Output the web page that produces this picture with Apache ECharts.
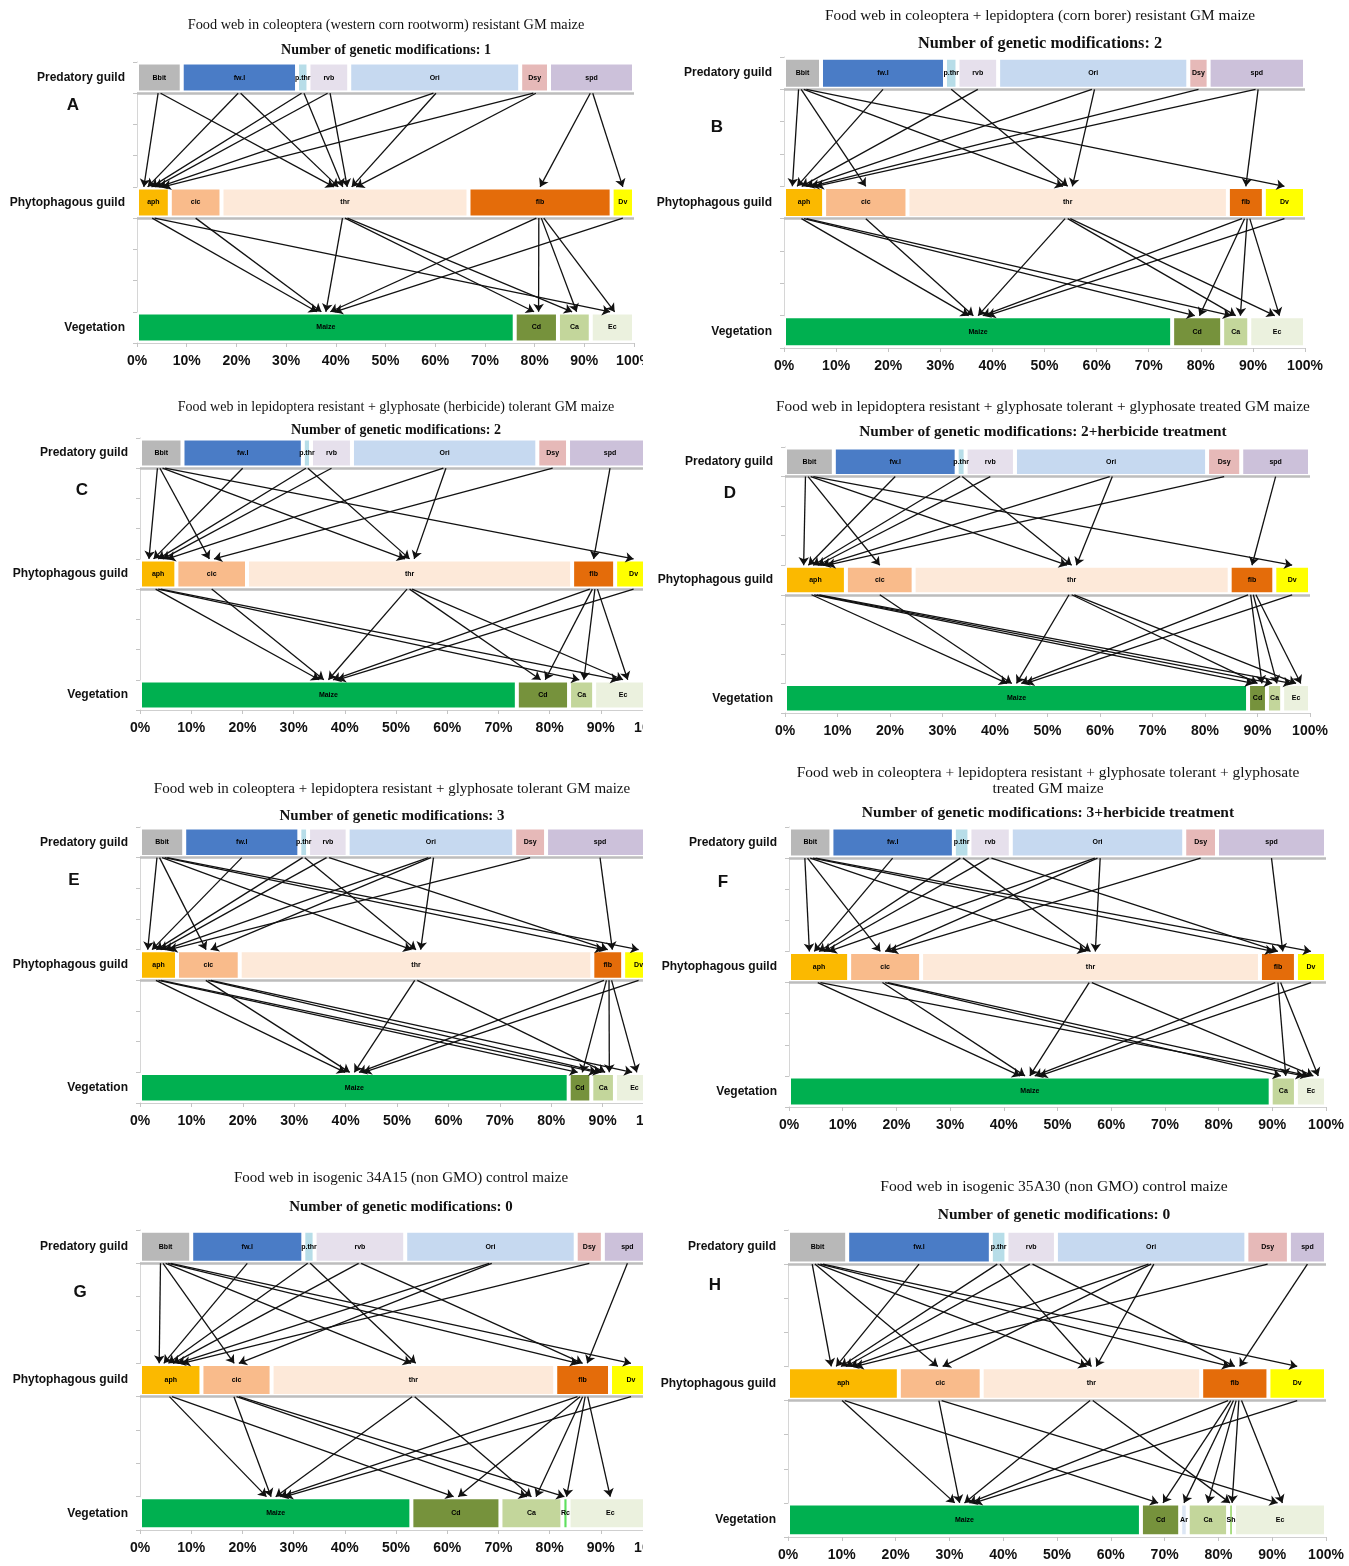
<!DOCTYPE html>
<html>
<head>
<meta charset="utf-8">
<script src="https://cdn.jsdelivr.net/npm/echarts@6/dist/echarts.min.js"></script>
<style>
    body { margin: 0; background: #fff; width: 1349px; height: 1566px; position: relative; overflow: hidden; }
    .panel { position: absolute; overflow: hidden; }
</style>
</head>
<body>
<div id="pA" class="panel"></div>
<div id="pB" class="panel"></div>
<div id="pC" class="panel"></div>
<div id="pD" class="panel"></div>
<div id="pE" class="panel"></div>
<div id="pF" class="panel"></div>
<div id="pG" class="panel"></div>
<div id="pH" class="panel"></div>
<script>
// rows, top to bottom
const rowNames = ['Predatory guild', 'Phytophagous guild', 'Vegetation'];
const predators = ['Bbit', 'fw.l', 'p.thr', 'rvb', 'Ori', 'Dsy', 'spd'];
const herbivores = ['aph', 'cic', 'thr', 'flb', 'Dv'];

// A
const predValA = [9, 23.2, 2.3, 8.2, 34.4, 5.8, 17.1];
const phytoValA = [6.6, 10.4, 49.7, 28.8, 4.5];
const vegA = ['Maize', 'Cd', 'Ca', 'Ec'];
const vegValA = [76, 8.7, 6.6, 8.7];
const eatsA = [['Bbit','aph'],['Bbit','thr'],['fw.l','aph'],['fw.l','thr'],['p.thr','aph'],['p.thr','thr'],
    ['rvb','aph'],['rvb','thr'],['Ori','aph'],['Ori','thr'],['Dsy','aph'],['Dsy','thr'],['spd','flb'],['spd','Dv']];
const feedsA = [['aph','Maize'],['aph','Ec'],['cic','Maize'],['thr','Maize'],['thr','Cd'],['thr','Ca'],
    ['flb','Maize'],['flb','Cd'],['flb','Ca'],['flb','Ec'],['Dv','Maize']];

// B
const predValB = [7.1, 23.8, 2.4, 7.8, 36.5, 3.9, 18.5];
const phytoValB = [7.7, 16, 61.5, 6.9, 7.9];
const vegB = ['Maize', 'Cd', 'Ca', 'Ec'];
const vegValB = [74.5, 9.6, 5.2, 10.7];
const eatsB = [['Bbit','aph'],['Bbit','cic'],['Bbit','thr'],['Bbit','Dv'],['fw.l','aph'],['p.thr','thr'],
    ['rvb','aph'],['Ori','aph'],['Ori','thr'],['Dsy','aph'],['spd','aph'],['spd','flb']];
const feedsB = [['aph','Maize'],['aph','Cd'],['aph','Ca'],['cic','Maize'],['thr','Maize'],['thr','Ca'],['thr','Ec'],
    ['flb','Maize'],['flb','Cd'],['flb','Ca'],['flb','Ec'],['Dv','Maize']];

// C
const predValC = [8.3, 23.5, 1.6, 8, 36.2, 6, 16.4];
const phytoValC = [7.1, 13.8, 63.5, 8.4, 7.2];
const vegC = ['Maize', 'Cd', 'Ca', 'Ec'];
const vegValC = [73.6, 10.2, 4.9, 11.3];
const eatsC = [['Bbit','aph'],['Bbit','cic'],['Bbit','thr'],['Bbit','Dv'],['fw.l','aph'],['p.thr','aph'],['p.thr','thr'],
    ['rvb','aph'],['Ori','aph'],['Ori','thr'],['Dsy','cic'],['spd','flb']];
const feedsC = [['aph','Maize'],['aph','Ca'],['aph','Ec'],['cic','Maize'],['thr','Maize'],['thr','Cd'],['thr','Ec'],
    ['flb','Maize'],['flb','Cd'],['flb','Ca'],['flb','Ec'],['Dv','Maize']];

// D
const predValD = [9.3, 23.4, 1.7, 9.4, 36.6, 6.5, 13.1];
const phytoValD = [11.6, 12.9, 60.2, 8.5, 6.8];
const vegD = ['Maize', 'Cd', 'Ca', 'Ec'];
const vegValD = [88.2, 3.6, 2.9, 5.3];
const eatsD = [['Bbit','aph'],['Bbit','cic'],['Bbit','thr'],['Bbit','Dv'],['fw.l','aph'],['p.thr','aph'],['p.thr','thr'],
    ['rvb','aph'],['Ori','aph'],['Ori','thr'],['Dsy','aph'],['spd','flb']];
const feedsD = [['aph','Maize'],['aph','Cd'],['aph','Ca'],['aph','Ec'],['cic','Maize'],['thr','Maize'],['thr','Cd'],['thr','Ec'],
    ['flb','Maize'],['flb','Cd'],['flb','Ca'],['flb','Ec'],['Dv','Maize']];

// E
const predValE = [8.6, 22.4, 1.7, 7.7, 32.4, 6.2, 21];
const phytoValE = [7.2, 12.2, 68.6, 6, 6];
const vegE = ['Maize', 'Cd', 'Ca', 'Ec'];
const vegValE = [83.4, 4.4, 4.6, 7.6];
const eatsE = [['Bbit','aph'],['Bbit','cic'],['Bbit','thr'],['Bbit','flb'],['Bbit','Dv'],['fw.l','aph'],['p.thr','aph'],['p.thr','thr'],
    ['rvb','aph'],['rvb','flb'],['Ori','aph'],['Ori','cic'],['Ori','thr'],['Dsy','aph'],['spd','flb']];
const feedsE = [['aph','Maize'],['aph','Cd'],['aph','Ca'],['cic','Maize'],['cic','Ca'],['cic','Ec'],['thr','Maize'],['thr','Ca'],
    ['flb','Maize'],['flb','Cd'],['flb','Ca'],['flb','Ec'],['Dv','Maize']];

// F
const predValF = [7.9, 22.8, 2.9, 7.7, 32.3, 6.1, 20.3];
const phytoValF = [11.2, 13.4, 63.1, 6.7, 5.6];
const vegF = ['Maize', 'Ca', 'Ec'];
const vegValF = [89.7, 4.7, 5.6];
const eatsF = [['Bbit','aph'],['Bbit','cic'],['Bbit','thr'],['Bbit','flb'],['Bbit','Dv'],['fw.l','aph'],['p.thr','aph'],['p.thr','thr'],
    ['rvb','aph'],['rvb','flb'],['Ori','aph'],['Ori','cic'],['Ori','thr'],['Dsy','cic'],['spd','flb']];
const feedsF = [['aph','Maize'],['aph','Ec'],['cic','Maize'],['cic','Ca'],['cic','Ec'],['thr','Maize'],['thr','Ec'],
    ['flb','Maize'],['flb','Ca'],['flb','Ec'],['Dv','Maize']];

// G
const predValG = [10, 21.9, 2.2, 17.7, 33.3, 5.3, 9.6];
const phytoValG = [12, 13.7, 55.4, 10.7, 8.2];
const vegG = ['Maize', 'Cd', 'Ca', 'Rc', 'Ec'];
const vegValG = [53, 17.4, 12.1, 1.2, 16.3];
const eatsG = [['Bbit','aph'],['Bbit','cic'],['Bbit','thr'],['Bbit','flb'],['Bbit','Dv'],['fw.l','aph'],['p.thr','aph'],['p.thr','thr'],
    ['rvb','aph'],['rvb','flb'],['Ori','aph'],['Ori','cic'],['Dsy','aph'],['spd','flb']];
const feedsG = [['aph','Maize'],['aph','Cd'],['cic','Maize'],['cic','Ca'],['cic','Rc'],['thr','Maize'],['thr','Ca'],
    ['flb','Maize'],['flb','Cd'],['flb','Ca'],['flb','Rc'],['flb','Ec'],['Dv','Maize']];

// H
const predValH = [11, 26.7, 2.9, 9.2, 35.4, 7.9, 6.9];
const phytoValH = [20.6, 15.4, 40.8, 12.5, 10.7];
const vegH = ['Maize', 'Cd', 'Ar', 'Ca', 'Sh', 'Ec'];
const vegValH = [65.6, 7.3, 1.4, 7.5, 1.1, 17.1];
const eatsH = [['Bbit','aph'],['Bbit','cic'],['Bbit','thr'],['Bbit','flb'],['Bbit','Dv'],['fw.l','aph'],['p.thr','aph'],['p.thr','thr'],
    ['rvb','aph'],['rvb','flb'],['Ori','aph'],['Ori','cic'],['Ori','thr'],['Dsy','aph'],['spd','flb']];
const feedsH = [['aph','Maize'],['aph','Cd'],['cic','Maize'],['cic','Ec'],['thr','Maize'],['thr','Sh'],
    ['flb','Maize'],['flb','Cd'],['flb','Ar'],['flb','Ca'],['flb','Sh'],['flb','Ec'],['Dv','Maize']];

const colors = {
    'Bbit': '#b8b8b8', 'fw.l': '#4a7cc6', 'p.thr': '#b7dde8', 'rvb': '#e6e0ec', 'Ori': '#c6d9f0',
    'Dsy': '#e6b9b8', 'spd': '#ccc1da',
    'aph': '#fbb900', 'cic': '#f9bb8b', 'thr': '#fde9d9', 'flb': '#e46c0a', 'Dv': '#ffff00',
    'Maize': '#00b050', 'Cd': '#76923c', 'Ca': '#c3d69b', 'Ec': '#ebf1de', 'Rc': '#5ee05e',
    'Ar': '#dce6f4', 'Sh': '#a8dc80'
};

// band index of each row on the 9-step y axis (0 = bottom)
const rowIndex = [8, 4, 0];

function segments(names, vals) {
    const out = {};
    let acc = 0;
    names.forEach(function (n, i) {
        out[n] = { mid: acc + vals[i] / 2, w: vals[i] };
        acc += vals[i];
    });
    return out;
}

function arrows(links, fromSegs, toSegs, yFrom, yTo) {
    return links.map(function (l) {
        const outs = links.filter(function (m) { return m[0] === l[0]; })
            .sort(function (a, b) { return toSegs[a[1]].mid - toSegs[b[1]].mid; });
        const ins = links.filter(function (m) { return m[1] === l[1]; })
            .sort(function (a, b) { return fromSegs[a[0]].mid - fromSegs[b[0]].mid; });
        const s = fromSegs[l[0]], t = toSegs[l[1]];
        const so = Math.min(0.5, s.w * 0.5 / outs.length);
        const to = Math.min(0.9, t.w * 0.7 / ins.length);
        const ko = outs.indexOf(l), ki = ins.indexOf(l);
        return {
            coords: [
                [s.mid + (ko - (outs.length - 1) / 2) * so, yFrom],
                [t.mid + (ki - (ins.length - 1) / 2) * to, yTo]
            ]
        };
    });
}

function buildPanel(id, box, text, rows, eats, feeds) {
    const dom = document.getElementById(id);
    dom.style.left = box.left + 'px';
    dom.style.top = box.top + 'px';
    dom.style.width = box.w + 'px';
    dom.style.height = box.h + 'px';
    const chart = echarts.init(dom, null, { renderer: 'canvas' });

    const cats = new Array(9).fill('');
    rowNames.forEach(function (n, r) { cats[rowIndex[r]] = n; });

    const series = [];
    rows.forEach(function (row, r) {
        row.names.forEach(function (n, i) {
            const d = new Array(9).fill('-');
            d[rowIndex[r]] = row.vals[i];
            series.push({
                name: n,
                type: 'bar',
                stack: 'guild',
                barWidth: '96%',
                data: d,
                silent: true,
                itemStyle: { color: colors[n], borderColor: '#ffffff', borderWidth: 2 },
                label: {
                    show: true,
                    position: 'inside',
                    formatter: '{a}',
                    fontSize: 7,
                    fontWeight: 'bold',
                    fontFamily: 'Liberation Sans',
                    color: '#000'
                }
            });
        });
    });

    const predSegs = segments(rows[0].names, rows[0].vals);
    const phytoSegs = segments(rows[1].names, rows[1].vals);
    const vegSegs = segments(rows[2].names, rows[2].vals);
    const arrowData = arrows(eats, predSegs, phytoSegs, rowIndex[0], rowIndex[1] + 1)
        .concat(arrows(feeds, phytoSegs, vegSegs, rowIndex[1], rowIndex[2] + 1));

    series.push({
        type: 'line',
        xAxisIndex: 0,
        yAxisIndex: 1,
        data: [],
        silent: true,
        markLine: {
            silent: true,
            symbol: 'none',
            label: { show: false },
            lineStyle: { color: '#bdbdbd', width: 2.5, type: 'solid' },
            data: [{ yAxis: rowIndex[0] }, { yAxis: rowIndex[1] }]
        }
    });
    series.push({
        type: 'lines',
        coordinateSystem: 'cartesian2d',
        xAxisIndex: 0,
        yAxisIndex: 1,
        silent: true,
        z: 10,
        symbol: ['none', 'arrow'],
        symbolSize: 8,
        lineStyle: { color: '#111', width: 1.3, opacity: 1, curveness: 0 },
        data: arrowData
    });

    const graphic = [];
    text.title.forEach(function (line, i) {
        graphic.push({
            type: 'text', x: text.cx - box.left, y: text.titleY + i * 16 - box.top, silent: true,
            style: { text: line, font: text.titleSize + 'px "Liberation Serif"', fill: '#111', align: 'center',
                verticalAlign: 'middle', textAlign: 'center', textVerticalAlign: 'middle' }
        });
    });
    graphic.push({
        type: 'text', x: text.cx - box.left, y: text.subY - box.top, silent: true,
        style: { text: text.sub, font: 'bold ' + text.subSize + 'px "Liberation Serif"', fill: '#111', align: 'center',
            verticalAlign: 'middle', textAlign: 'center', textVerticalAlign: 'middle' }
    });
    graphic.push({
        type: 'text', x: text.letterX - box.left, y: text.letterY - box.top, silent: true,
        style: { text: text.letter, font: 'bold 17px "Liberation Sans"', fill: '#111', align: 'center',
            verticalAlign: 'middle', textAlign: 'center', textVerticalAlign: 'middle' }
    });

    const option = {
        animation: false,
        grid: {
            left: box.gl - box.left,
            top: box.gt - box.top,
            width: box.gr - box.gl,
            height: box.gb - box.gt,
            containLabel: false,
            outerBoundsMode: 'none'
        },
        xAxis: {
            type: 'value',
            min: 0,
            max: 100,
            interval: 10,
            axisLine: { show: true, lineStyle: { color: '#cfcfcf', width: 1 } },
            axisTick: { show: true, length: 4, lineStyle: { color: '#c4c4c4' } },
            splitLine: { show: false },
            axisLabel: {
                formatter: '{value}%',
                margin: 11,
                fontSize: 14,
                fontWeight: 'bold',
                fontFamily: 'Liberation Sans',
                color: '#111',
                hideOverlap: false
            }
        },
        yAxis: [{
            type: 'category',
            data: cats,
            axisLine: { show: true, lineStyle: { color: '#d6d6d6' } },
            axisTick: { show: true, interval: 0, length: 4, lineStyle: { color: '#c4c4c4' } },
            splitLine: { show: false },
            axisLabel: {
                interval: 0,
                margin: 12,
                fontSize: 12,
                fontWeight: 'bold',
                fontFamily: 'Liberation Sans',
                color: '#111'
            }
        }, {
            type: 'value',
            min: 0,
            max: 9,
            show: false
        }],
        graphic: graphic,
        series: series
    };
    chart.setOption(option);
    return chart;
}

function guildRows(predVals, phytoVals, vegNames, vegVals) {
    return [
        { names: predators, vals: predVals },
        { names: herbivores, vals: phytoVals },
        { names: vegNames, vals: vegVals }
    ];
}

buildPanel('pA',
    { left: 0, top: 0, w: 643, h: 382, gl: 137, gr: 634, gt: 62, gb: 343 },
    { title: ['Food web in coleoptera (western corn rootworm) resistant GM maize'], titleY: 25, cx: 386, titleSize: 14.3,
      sub: 'Number of genetic modifications: 1', subY: 50, subSize: 14, letter: 'A', letterX: 73, letterY: 105 },
    guildRows(predValA, phytoValA, vegA, vegValA), eatsA, feedsA);

buildPanel('pB',
    { left: 643, top: 0, w: 706, h: 385, gl: 784, gr: 1305, gt: 57, gb: 348 },
    { title: ['Food web in coleoptera + lepidoptera (corn borer) resistant GM maize'], titleY: 16, cx: 1040, titleSize: 15.3,
      sub: 'Number of genetic modifications: 2', subY: 44, subSize: 16.3, letter: 'B', letterX: 717, letterY: 127 },
    guildRows(predValB, phytoValB, vegB, vegValB), eatsB, feedsB);

buildPanel('pC',
    { left: 0, top: 388, w: 643, h: 357, gl: 140, gr: 652, gt: 438, gb: 710 },
    { title: ['Food web in lepidoptera resistant + glyphosate (herbicide) tolerant GM maize'], titleY: 407, cx: 396, titleSize: 14,
      sub: 'Number of genetic modifications: 2', subY: 430, subSize: 14, letter: 'C', letterX: 82, letterY: 490 },
    guildRows(predValC, phytoValC, vegC, vegValC), eatsC, feedsC);

buildPanel('pD',
    { left: 643, top: 388, w: 706, h: 357, gl: 785, gr: 1310, gt: 447, gb: 713 },
    { title: ['Food web in lepidoptera resistant + glyphosate tolerant + glyphosate treated GM maize'], titleY: 407, cx: 1043,
      titleSize: 15.3,
      sub: 'Number of genetic modifications: 2+herbicide treatment', subY: 432, subSize: 15.3,
      letter: 'D', letterX: 730, letterY: 493 },
    guildRows(predValD, phytoValD, vegD, vegValD), eatsD, feedsD);

buildPanel('pE',
    { left: 0, top: 765, w: 643, h: 380, gl: 140, gr: 654, gt: 827, gb: 1103 },
    { title: ['Food web in coleoptera + lepidoptera resistant + glyphosate tolerant GM maize'], titleY: 789, cx: 392,
      titleSize: 15,
      sub: 'Number of genetic modifications: 3', subY: 816, subSize: 15, letter: 'E', letterX: 74, letterY: 880 },
    guildRows(predValE, phytoValE, vegE, vegValE), eatsE, feedsE);

buildPanel('pF',
    { left: 643, top: 757, w: 706, h: 390, gl: 789, gr: 1326, gt: 827, gb: 1107 },
    { title: ['Food web in coleoptera + lepidoptera resistant + glyphosate tolerant + glyphosate', 'treated GM maize'],
      titleY: 773, cx: 1048, titleSize: 15.4,
      sub: 'Number of genetic modifications: 3+herbicide treatment', subY: 813, subSize: 15.5,
      letter: 'F', letterX: 723, letterY: 882 },
    guildRows(predValF, phytoValF, vegF, vegValF), eatsF, feedsF);

buildPanel('pG',
    { left: 0, top: 1160, w: 643, h: 406, gl: 140, gr: 652, gt: 1230, gb: 1530 },
    { title: ['Food web in isogenic 34A15 (non GMO) control maize'], titleY: 1178, cx: 401, titleSize: 15,
      sub: 'Number of genetic modifications: 0', subY: 1207, subSize: 14.9, letter: 'G', letterX: 80, letterY: 1292 },
    guildRows(predValG, phytoValG, vegG, vegValG), eatsG, feedsG);

buildPanel('pH',
    { left: 643, top: 1168, w: 706, h: 398, gl: 788, gr: 1326, gt: 1230, gb: 1537 },
    { title: ['Food web in isogenic 35A30 (non GMO) control maize'], titleY: 1187, cx: 1054, titleSize: 15.6,
      sub: 'Number of genetic modifications: 0', subY: 1215, subSize: 15.5, letter: 'H', letterX: 715, letterY: 1285 },
    guildRows(predValH, phytoValH, vegH, vegValH), eatsH, feedsH);
</script>
</body>
</html>
